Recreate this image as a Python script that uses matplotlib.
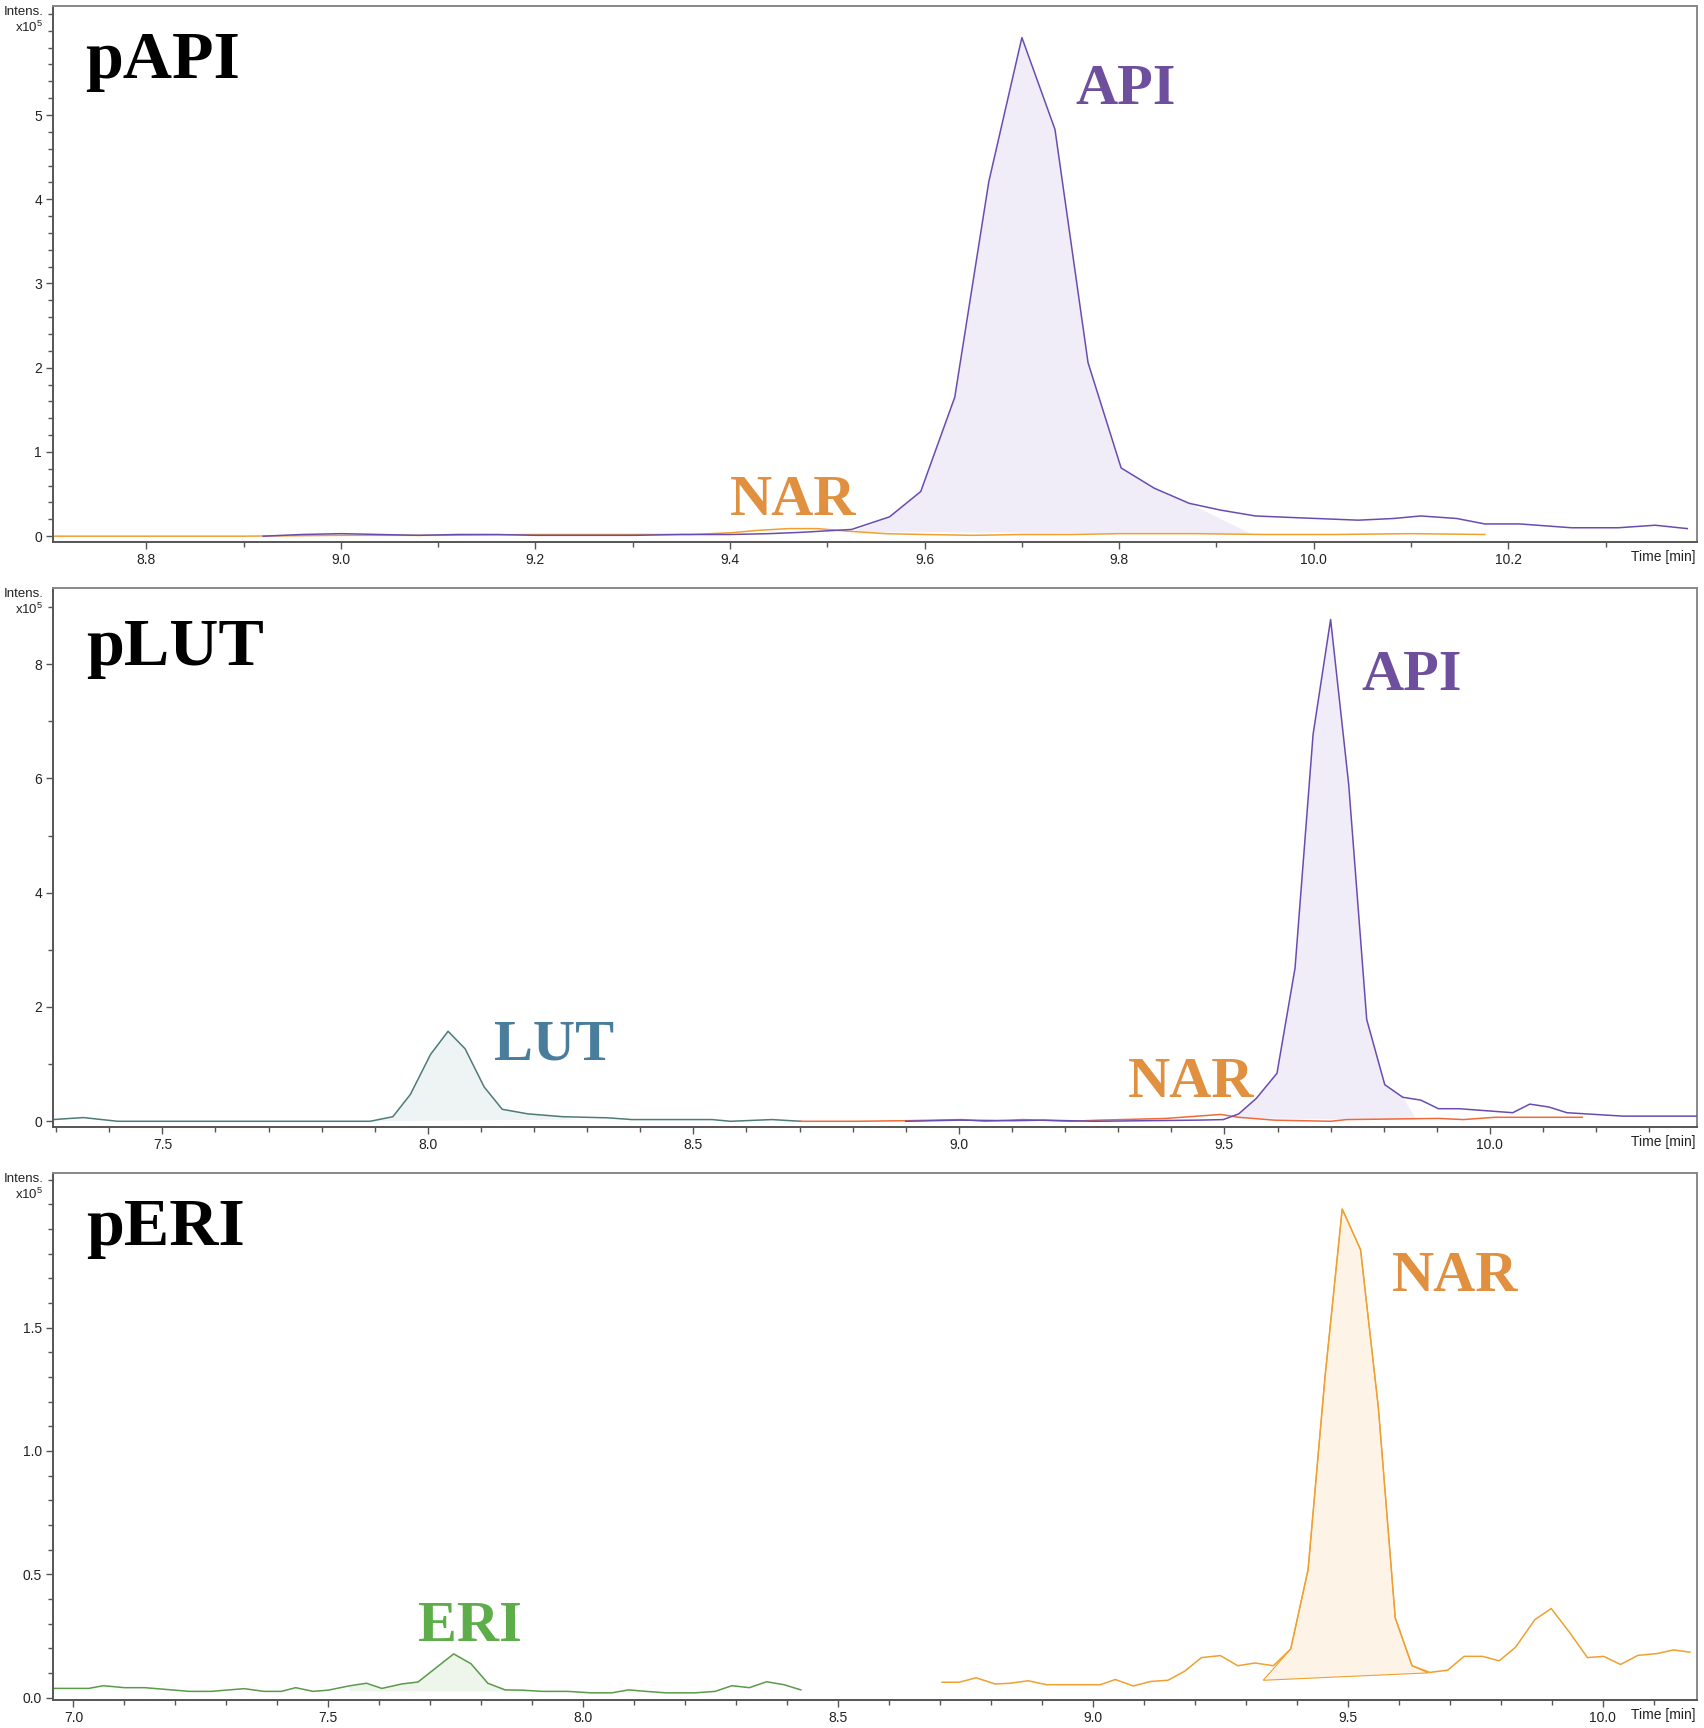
import numpy as np
import matplotlib.pyplot as plt
from matplotlib.ticker import MultipleLocator, FixedLocator, FormatStrFormatter

plt.rcParams['font.family'] = ['Liberation Sans', 'DejaVu Sans']
plt.rcParams['mathtext.fontset'] = 'custom'
plt.rcParams['mathtext.rm'] = 'Liberation Sans'

# --- pAPI (intensity in 1e5) ---
papi_api_t = [8.92, 8.96, 9.00, 9.04, 9.08, 9.12, 9.16, 9.20, 9.25, 9.30, 9.35, 9.40, 9.44,
              9.472, 9.525, 9.564, 9.596, 9.631, 9.666, 9.700, 9.734, 9.768, 9.802, 9.836,
              9.872, 9.904, 9.940, 9.981, 10.046, 10.082, 10.110, 10.147, 10.176, 10.212,
              10.265, 10.313, 10.351, 10.384]
papi_api_i = [0.0, 0.02, 0.03, 0.02, 0.01, 0.02, 0.02, 0.01, 0.01, 0.01, 0.02, 0.02, 0.03,
              0.045, 0.08, 0.23, 0.53, 1.65, 4.21, 5.92, 4.83, 2.06, 0.81, 0.57,
              0.39, 0.31, 0.24, 0.22, 0.19, 0.21, 0.24, 0.21, 0.145, 0.145,
              0.10, 0.10, 0.13, 0.09]
papi_api_area_t = [9.525, 9.564, 9.596, 9.631, 9.666, 9.700, 9.734, 9.768, 9.802, 9.836, 9.872, 9.935]
papi_api_area_i = [0.05, 0.23, 0.53, 1.65, 4.21, 5.92, 4.83, 2.06, 0.81, 0.57, 0.39, 0.03]
papi_nar_t = [8.70, 8.80, 8.90, 9.00, 9.10, 9.20, 9.30, 9.36, 9.40, 9.43, 9.46, 9.49, 9.52,
              9.56, 9.60, 9.65, 9.70, 9.75, 9.80, 9.88, 9.95, 10.02, 10.10, 10.176]
papi_nar_i = [0.0, 0.0, 0.0, 0.01, 0.01, 0.02, 0.02, 0.02, 0.04, 0.07, 0.09, 0.09, 0.06,
              0.03, 0.02, 0.01, 0.02, 0.02, 0.03, 0.03, 0.02, 0.02, 0.03, 0.02]

# --- pLUT ---
plut_lut_t = [7.294, 7.351, 7.416, 7.60, 7.80, 7.891, 7.934, 7.967, 8.005, 8.038, 8.070,
              8.106, 8.140, 8.188, 8.254, 8.34, 8.384, 8.535, 8.57, 8.648, 8.702]
plut_lut_i = [0.03, 0.065, 0.0, 0.0, 0.0, 0.0, 0.08, 0.47, 1.17, 1.575, 1.27,
              0.60, 0.21, 0.13, 0.08, 0.06, 0.03, 0.03, 0.0, 0.03, 0.0]
plut_lut_area_t = [7.895, 7.934, 7.967, 8.005, 8.038, 8.070, 8.106, 8.140, 8.188, 8.254, 8.275]
plut_lut_area_i = [0.0, 0.08, 0.47, 1.17, 1.575, 1.27, 0.60, 0.21, 0.13, 0.08, 0.03]
plut_api_t = [8.90, 9.00, 9.10, 9.16, 9.256, 9.35, 9.45, 9.498, 9.527, 9.560, 9.599, 9.633,
              9.667, 9.700, 9.734, 9.768, 9.802, 9.836, 9.870, 9.903, 9.942, 10.043, 10.075,
              10.111, 10.145, 10.251, 10.39]
plut_api_i = [0.0, 0.02, 0.01, 0.02, 0.0, 0.01, 0.02, 0.03, 0.13, 0.40, 0.84, 2.68,
              6.77, 8.78, 5.90, 1.78, 0.64, 0.42, 0.37, 0.22, 0.22, 0.15, 0.30,
              0.25, 0.15, 0.09, 0.09]
plut_api_area_t = [9.514, 9.527, 9.560, 9.599, 9.633, 9.667, 9.700, 9.734, 9.768, 9.802, 9.836, 9.862]
plut_api_area_i = [0.05, 0.13, 0.40, 0.84, 2.68, 6.77, 8.78, 5.90, 1.78, 0.64, 0.42, 0.03]
plut_nar_t = [8.70, 8.80, 8.90, 9.005, 9.05, 9.12, 9.21, 9.265, 9.39, 9.493, 9.527, 9.594,
              9.70, 9.73, 9.903, 9.95, 10.01, 10.174]
plut_nar_i = [0.0, 0.0, 0.01, 0.03, 0.0, 0.03, 0.0, 0.02, 0.05, 0.12, 0.07, 0.02,
              0.0, 0.03, 0.05, 0.03, 0.07, 0.07]

# --- pERI ---
peri_eri_t = [6.96, 7.03, 7.059, 7.10, 7.14, 7.228, 7.27, 7.335, 7.374, 7.408, 7.436, 7.47,
              7.50, 7.543, 7.575, 7.605, 7.644, 7.676, 7.746, 7.78, 7.813, 7.847, 7.88,
              7.92, 7.97, 8.016, 8.056, 8.089, 8.123, 8.163, 8.219, 8.259, 8.292, 8.326,
              8.36, 8.394, 8.427]
peri_eri_i = [0.037, 0.037, 0.048, 0.04, 0.04, 0.025, 0.025, 0.036, 0.025, 0.025, 0.04, 0.025,
              0.03, 0.048, 0.058, 0.037, 0.055, 0.063, 0.177, 0.137, 0.058, 0.031, 0.03,
              0.025, 0.025, 0.019, 0.019, 0.031, 0.025, 0.019, 0.019, 0.025, 0.048, 0.04,
              0.064, 0.052, 0.031]
peri_eri_area_t = [7.54, 7.543, 7.575, 7.605, 7.644, 7.676, 7.746, 7.78, 7.813, 7.847, 7.88, 7.90]
peri_eri_area_i = [0.025, 0.048, 0.058, 0.037, 0.055, 0.063, 0.177, 0.137, 0.058, 0.031, 0.03, 0.025]
peri_nar_t = [8.704, 8.737, 8.771, 8.808, 8.838, 8.873, 8.909, 8.944, 8.979, 9.014, 9.044,
              9.079, 9.113, 9.147, 9.18, 9.213, 9.25, 9.284, 9.318, 9.354, 9.388, 9.422,
              9.455, 9.489, 9.525, 9.56, 9.593, 9.626, 9.661, 9.696, 9.728, 9.764, 9.797,
              9.829, 9.867, 9.899, 9.935, 9.97, 10.002, 10.035, 10.069, 10.106, 10.139, 10.171]
peri_nar_i = [0.062, 0.062, 0.080, 0.055, 0.058, 0.068, 0.052, 0.052, 0.052, 0.052, 0.073,
              0.047, 0.065, 0.070, 0.107, 0.162, 0.170, 0.129, 0.140, 0.129, 0.197, 0.518,
              1.294, 1.981, 1.816, 1.174, 0.323, 0.129, 0.102, 0.111, 0.167, 0.167, 0.149,
              0.204, 0.316, 0.361, 0.264, 0.162, 0.167, 0.134, 0.171, 0.178, 0.193, 0.184]
peri_nar_area_t = [9.334, 9.388, 9.422, 9.455, 9.489, 9.525, 9.56, 9.593, 9.626, 9.658]
peri_nar_area_i = [0.07, 0.197, 0.518, 1.294, 1.981, 1.816, 1.174, 0.323, 0.129, 0.10]

# axis ticks
papi_yticks = [0, 1, 2, 3, 4, 5]
plut_yticks = [0, 2, 4, 6, 8]
peri_yticks = [0.0, 0.5, 1.0, 1.5]

# colours
c_api, c_api_txt, c_api_fill = "#6A4CB0", "#6E4F9E", "#F1EDF8"
c_nar, c_nar_txt, c_nar_fill = "#F0A030", "#E0903F", "#FDF4E7"
c_nar2 = "#EE6A3A"
c_lut, c_lut_txt, c_lut_fill = "#4F7A7A", "#4A7D9B", "#EEF4F4"
c_eri, c_eri_txt, c_eri_fill = "#5A9A4A", "#5DAE4B", "#EEF5EA"

fig = plt.figure(figsize=(17.04, 17.28), dpi=100)
L, W = 0.0311, 0.9648
ax1 = fig.add_axes([L, 0.6863, W, 0.3105])
ax2 = fig.add_axes([L, 0.3478, W, 0.3119])
ax3 = fig.add_axes([L, 0.0162, W, 0.3050])

serif = ['Liberation Serif', 'DejaVu Serif']


def style(ax, xlim, ylim, xmaj, xlast, yticks, ymin, yfmt):
    ax.set_xlim(*xlim)
    ax.set_ylim(*ylim)
    xt = np.arange(np.ceil(xlim[0] / xmaj) * xmaj, xlast + 1e-6, xmaj)
    ax.xaxis.set_major_locator(FixedLocator(xt))
    ax.xaxis.set_minor_locator(MultipleLocator(0.1))
    ax.yaxis.set_major_locator(FixedLocator(yticks))
    ax.yaxis.set_minor_locator(MultipleLocator(ymin))
    ax.xaxis.set_major_formatter(FormatStrFormatter('%.1f'))
    ax.yaxis.set_major_formatter(FormatStrFormatter(yfmt))
    ax.tick_params(which='both', direction='out', colors='#555555', labelcolor='#222222',
                   labelsize=10, pad=3)
    ax.tick_params(which='major', length=5, width=1)
    ax.tick_params(which='minor', length=3.5, width=1)
    for s in ['left', 'bottom']:
        ax.spines[s].set_color('#555555')
        ax.spines[s].set_linewidth(1.4)
    for s in ['top', 'right']:
        ax.spines[s].set_color('#888888')
        ax.spines[s].set_linewidth(1.4)
    ax.text(-0.0055, 1.0, "Intens.", transform=ax.transAxes, ha='right', va='top',
            fontsize=9.5, color='#222222')
    ax.annotate(r"x10$^5$", xy=(0, 1), xycoords='axes fraction', xytext=(-7, -10),
                textcoords='offset points', ha='right', va='top', fontsize=9.5,
                color='#222222')
    ax.annotate("Time [min]", xy=(1, 0), xycoords='axes fraction', xytext=(-1, -11),
                textcoords='offset points', ha='right', va='center', fontsize=10,
                color='#222222')


style(ax1, (8.704, 10.394), (-0.07, 6.30), 0.2, 10.2, papi_yticks, 0.2, '%d')
style(ax2, (7.294, 10.39), (-0.1, 9.33), 0.5, 10.0, plut_yticks, 1, '%d')
style(ax3, (6.96, 10.185), (-0.01, 2.127), 0.5, 10.0, peri_yticks, 0.1, '%.1f')

# panel 1
ax1.fill(papi_api_area_t, papi_api_area_i, color=c_api_fill, lw=0, zorder=1)
ax1.plot(papi_nar_t, papi_nar_i, color=c_nar, lw=1.1, zorder=2)
ax1.plot(papi_api_t, papi_api_i, color=c_api, lw=1.1, zorder=3)
ax1.text(0.0195, 0.865, "pAPI", transform=ax1.transAxes, family=serif, fontweight='bold',
         fontsize=49, va='baseline', color='black')
ax1.text(9.755, 5.13, "API", family=serif, fontweight='bold', fontsize=42, va='baseline',
         color=c_api_txt)
ax1.text(9.400, 0.254, "NAR", family=serif, fontweight='bold', fontsize=42, va='baseline',
         color=c_nar_txt)

# panel 2
ax2.fill(plut_lut_area_t, plut_lut_area_i, color=c_lut_fill, lw=0, zorder=1)
ax2.fill(plut_api_area_t, plut_api_area_i, color=c_api_fill, lw=0, zorder=1)
ax2.plot(plut_lut_t, plut_lut_i, color=c_lut, lw=1.1, zorder=2)
ax2.plot(plut_nar_t, plut_nar_i, color=c_nar2, lw=1.1, zorder=2)
ax2.plot(plut_api_t, plut_api_i, color=c_api, lw=1.1, zorder=3)
ax2.text(0.020, 0.857, "pLUT", transform=ax2.transAxes, family=serif, fontweight='bold',
         fontsize=49, va='baseline', color='black')
ax2.text(8.124, 1.087, "LUT", family=serif, fontweight='bold', fontsize=42, va='baseline',
         color=c_lut_txt)
ax2.text(9.758, 7.545, "API", family=serif, fontweight='bold', fontsize=42, va='baseline',
         color=c_api_txt)
ax2.text(9.318, 0.42, "NAR", family=serif, fontweight='bold', fontsize=42, va='baseline',
         color=c_nar_txt)

# panel 3
ax3.fill(peri_eri_area_t, peri_eri_area_i, color=c_eri_fill, lw=0, zorder=1)
ax3.fill(peri_nar_area_t, peri_nar_area_i, facecolor=c_nar_fill, edgecolor=c_nar, lw=0.8,
         zorder=1)
ax3.plot(peri_eri_t, peri_eri_i, color=c_eri, lw=1.1, zorder=2)
ax3.plot(peri_nar_t, peri_nar_i, color=c_nar, lw=1.1, zorder=2)
ax3.text(0.020, 0.863, "pERI", transform=ax3.transAxes, family=serif, fontweight='bold',
         fontsize=49, va='baseline', color='black')
ax3.text(7.676, 0.231, "ERI", family=serif, fontweight='bold', fontsize=42, va='baseline',
         color=c_eri_txt)
ax3.text(9.587, 1.648, "NAR", family=serif, fontweight='bold', fontsize=42, va='baseline',
         color=c_nar_txt)

fig.savefig("out.png", dpi=100)
